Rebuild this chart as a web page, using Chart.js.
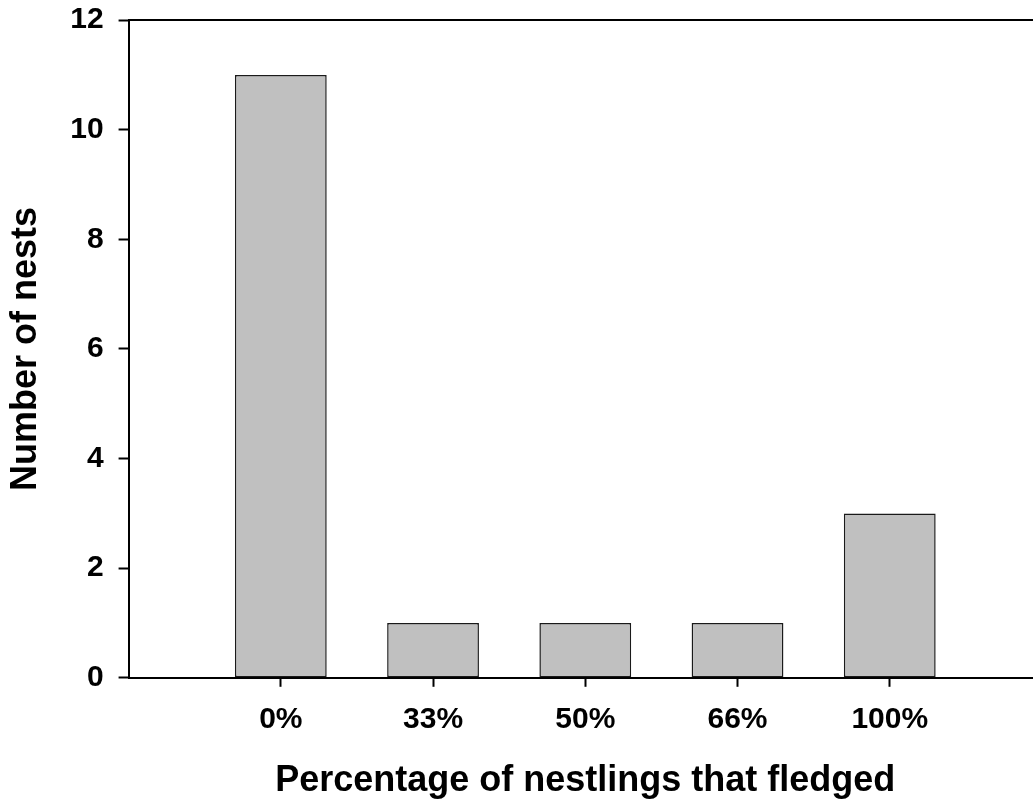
<!DOCTYPE html>
<html>
<head>
<meta charset="utf-8">
<script src="https://cdn.jsdelivr.net/npm/chart.js@4/dist/chart.umd.min.js"></script>
<style>
  html, body { margin: 0; padding: 0; background: #fff; overflow: hidden; }
  #wrap { position: relative; width: 1046px; height: 803px; }
</style>
</head>
<body>
<div id="wrap"><canvas id="c"></canvas></div>
<script>
const categories = ['0%', '33%', '50%', '66%', '100%'];
const positions = [1, 2, 3, 4, 5];
const nests = [11, 1, 1, 1, 3];
const yTicks = [0, 2, 4, 6, 8, 10, 12];
const xTitle = 'Percentage of nestlings that fledged';
const yTitle = 'Number of nests';

const FONT = '"Liberation Sans", Arial, Helvetica, sans-serif';

new Chart(document.getElementById('c'), {
  type: 'bar',
  data: {
    datasets: [{
      data: positions.map((x, i) => ({ x: x, y: nests[i] })),
      backgroundColor: '#c0c0c0',
      borderColor: '#1a1a1a',
      borderWidth: 1.5,
      borderSkipped: false,
      categoryPercentage: 1,
      barPercentage: 0.603
    }]
  },
  options: {
    responsive: true,
    maintainAspectRatio: false,
    animation: false,
    layout: { padding: { top: 20, right: 4, bottom: 0, left: 0 } },
    plugins: { legend: { display: false }, tooltip: { enabled: false } },
    scales: {
      x: {
        type: 'linear',
        position: 'bottom',
        min: 0,
        max: 6,
        offset: false,
        afterBuildTicks: (scale) => { scale.ticks = positions.map(v => ({ value: v })); },
        grid: { display: true, drawOnChartArea: false, drawTicks: true, tickLength: 9, tickWidth: 2, tickColor: '#000', offset: false },
        border: { display: true, color: '#000', width: 2 },
        ticks: {
          autoSkip: false, maxRotation: 0, padding: 15, color: '#000',
          font: { family: FONT, size: 30, weight: 'bold', lineHeight: 1.2 },
          callback: (v) => { const i = positions.indexOf(v); return i >= 0 ? categories[i] : ''; }
        },
        title: {
          display: true, text: xTitle, color: '#000',
          font: { family: FONT, size: 36, weight: 'bold', lineHeight: 1.2 },
          padding: { top: 7, bottom: 0 }
        }
      },
      x2: {
        type: 'linear',
        position: 'top',
        min: 0,
        max: 6,
        offset: false,
        grid: { display: false, drawTicks: false },
        border: { display: true, color: '#000', width: 2 },
        ticks: { display: false }
      },
      y: {
        min: 0,
        max: 12,
        afterBuildTicks: (scale) => { scale.ticks = yTicks.map(v => ({ value: v })); },
        grid: { display: true, drawOnChartArea: false, drawTicks: true, tickLength: 10, tickWidth: 2, tickColor: '#000' },
        border: { display: true, color: '#000', width: 2 },
        ticks: {
          padding: 15, color: '#000',
          font: { family: FONT, size: 30, weight: 'bold', lineHeight: 0.34 }
        },
        title: {
          display: true, text: yTitle, color: '#000',
          font: { family: FONT, size: 36, weight: 'bold', lineHeight: 1.2 },
          padding: { top: 4, bottom: 8 }
        }
      }
    }
  }
});
</script>
</body>
</html>
